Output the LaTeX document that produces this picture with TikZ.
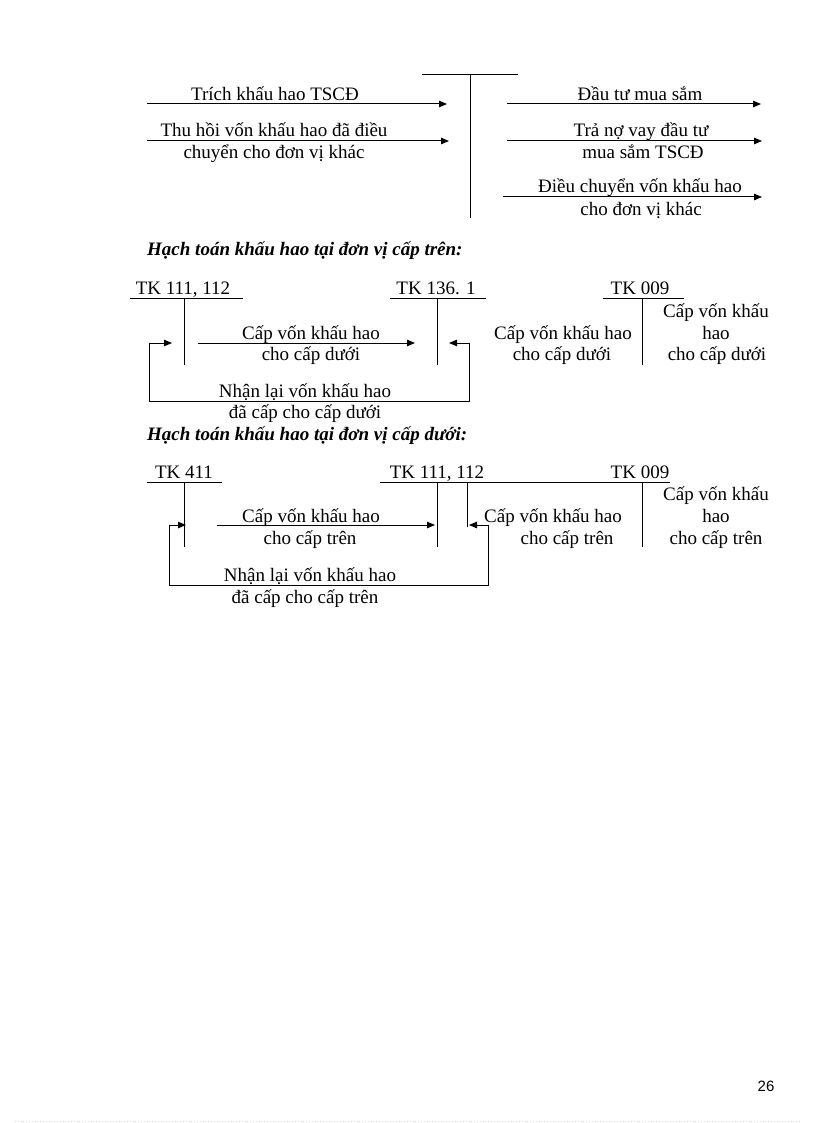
\documentclass[tikz,border=0pt]{standalone}
\usepackage{fontspec}
\setmainfont{Liberation Serif}
\newfontfamily\pagenumfont{Liberation Sans}
\usetikzlibrary{arrows.meta}
\begin{document}
\begin{tikzpicture}[x=1pt,y=-1pt,
  txt/.style={font=\fontsize{19}{22}\selectfont, inner sep=0pt, text height=13pt, text depth=4pt, yshift=-1.5pt},
  head/.style={txt, font=\fontsize{19}{22}\selectfont\bfseries\itshape, anchor=west},
  ln/.style={line width=1pt},
  arr/.style={line width=1pt, -{Triangle[length=8pt,width=6.5pt]}},
  loop/.style={line width=1pt, {Triangle[length=8pt,width=6.5pt]}-{Triangle[length=8pt,width=6.5pt]}}]
\useasboundingbox (0,0) rectangle (816,1123);

% ---------- Section 1 ----------
\coordinate (t1a) at (422,75); \coordinate (t1b) at (518,75);
\coordinate (v1a) at (470,75); \coordinate (v1b) at (470,218);
\draw[ln] (t1a) -- (t1b);
\draw[ln] (v1a) -- (v1b);

\coordinate (l1s) at (147,104); \coordinate (l1e) at (447,104);
\draw[arr] (l1s) -- (l1e);
\node[txt] (l1t) at (275,95) {Trích khấu hao TSCĐ};

\coordinate (l2s) at (147,141); \coordinate (l2e) at (449,141);
\draw[arr] (l2s) -- (l2e);
\node[txt] (l2t) at (274,131) {Thu hồi vốn khấu hao đã điều};
\node[txt] (l2u) at (274,153) {chuyển cho đơn vị khác};

\coordinate (r1s) at (507,104); \coordinate (r1e) at (761,104);
\draw[arr] (r1s) -- (r1e);
\node[txt] (r1t) at (640,95) {Đầu tư mua sắm};

\coordinate (r2s) at (507,141); \coordinate (r2e) at (762,141);
\draw[arr] (r2s) -- (r2e);
\node[txt] (r2t) at (641,131) {Trả nợ vay đầu tư};
\node[txt] (r2u) at (643,153) {mua sắm TSCĐ};

\coordinate (r3s) at (503,197); \coordinate (r3e) at (762,197);
\draw[arr] (r3s) -- (r3e);
\node[txt] (r3t) at (640,187) {Điều chuyển vốn khấu hao};
\node[txt] (r3u) at (641,209) {cho đơn vị khác};

% ---------- Section 2 ----------
\node[head] (h2) at (147,249) {Hạch toán khấu hao tại đơn vị cấp trên:};

\node[txt] (a111) at (183,288) {TK 111, 112};
\coordinate (a111l) at (130,298); \coordinate (a111r) at (243,298);
\draw[ln] (a111l) -- (a111r);
\coordinate (a111v) at (184,298); \coordinate (a111w) at (184,365);
\draw[ln] (a111v) -- (a111w);

\node[txt] (a136) at (436,288) {TK 136. 1};
\coordinate (a136l) at (390,298); \coordinate (a136r) at (486,298);
\draw[ln] (a136l) -- (a136r);
\coordinate (a136v) at (437,298); \coordinate (a136w) at (437,365);
\draw[ln] (a136v) -- (a136w);

\node[txt] (a009) at (640,288) {TK 009};
\coordinate (a009l) at (603,298); \coordinate (a009r) at (684,298);
\draw[ln] (a009l) -- (a009r);
\coordinate (a009v) at (642,298); \coordinate (a009w) at (642,365);
\draw[ln] (a009v) -- (a009w);

\coordinate (c2s) at (198,343); \coordinate (c2e) at (415,343);
\draw[arr] (c2s) -- (c2e);
\node[txt] (c2t) at (311,333) {Cấp vốn khấu hao};
\node[txt] (c2u) at (311,354) {cho cấp dưới};

\coordinate (n2a) at (172,343); \coordinate (n2b) at (149,343);
\coordinate (n2c) at (149,401); \coordinate (n2d) at (469,401);
\coordinate (n2e) at (469,343); \coordinate (n2f) at (449,343);
\draw[loop] (n2a) -- (n2b) -- (n2c) -- (n2d) -- (n2e) -- (n2f);
\node[txt] (n2t) at (305,391) {Nhận lại vốn khấu hao};
\node[txt] (n2u) at (305,412) {đã cấp cho cấp dưới};

\node[txt] (d2t) at (563,333) {Cấp vốn khấu hao};
\node[txt] (d2u) at (562,354) {cho cấp dưới};
\node[txt] (e2t) at (716,311) {Cấp vốn khấu};
\node[txt] (e2u) at (716,333) {hao};
\node[txt] (e2v) at (717,354) {cho cấp dưới};

% ---------- Section 3 ----------
\node[head] (h3) at (147,434) {Hạch toán khấu hao tại đơn vị cấp dưới:};

\node[txt] (b411) at (184,472) {TK 411};
\coordinate (b411l) at (147,482); \coordinate (b411r) at (222,482);
\draw[ln] (b411l) -- (b411r);
\coordinate (b411v) at (184,482); \coordinate (b411w) at (184,547);
\draw[ln] (b411v) -- (b411w);

\node[txt] (b111) at (437,472) {TK 111, 112};
\node[txt] (b009) at (640,472) {TK 009};
\coordinate (b111l) at (380,482); \coordinate (b111r) at (670,482);
\draw[ln] (b111l) -- (b111r);
\coordinate (b111v) at (437,482); \coordinate (b111w) at (437,547);
\draw[ln] (b111v) -- (b111w);
\coordinate (b112v) at (467,482); \coordinate (b112w) at (467,527);
\draw[ln] (b112v) -- (b112w);
\coordinate (b009v) at (642,482); \coordinate (b009w) at (642,547);
\draw[ln] (b009v) -- (b009w);

\coordinate (c3s) at (217,525); \coordinate (c3e) at (435,525);
\draw[arr] (c3s) -- (c3e);
\node[txt] (c3t) at (311,516) {Cấp vốn khấu hao};
\node[txt] (c3u) at (310,538) {cho cấp trên};

\coordinate (n3a) at (186,525); \coordinate (n3b) at (169,525);
\coordinate (n3c) at (169,585); \coordinate (n3d) at (488,585);
\coordinate (n3e) at (488,525); \coordinate (n3f) at (469,525);
\draw[loop] (n3a) -- (n3b) -- (n3c) -- (n3d) -- (n3e) -- (n3f);
\node[txt] (n3t) at (310,575) {Nhận lại vốn khấu hao};
\node[txt] (n3u) at (305,597) {đã cấp cho cấp trên};

\node[txt] (d3t) at (553,516) {Cấp vốn khấu hao};
\node[txt] (d3u) at (567,538) {cho cấp trên};
\node[txt] (e3t) at (716,494) {Cấp vốn khấu};
\node[txt] (e3u) at (716,516) {hao};
\node[txt] (e3v) at (716,538) {cho cấp trên};

% ---------- Footer ----------
\node[font=\pagenumfont\fontsize{15}{18}\selectfont, inner sep=0pt] (pg) at (766,1086) {26};
\coordinate (f1) at (15,1121); \coordinate (f2) at (800,1121);
\draw[black!15, line width=0.8pt, dotted] (f1) -- (f2);
\end{tikzpicture}
\end{document}
